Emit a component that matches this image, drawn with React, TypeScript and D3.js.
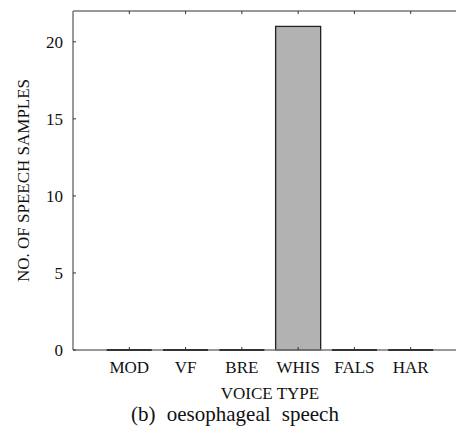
import React from "react";
import * as d3 from "d3";

const categories = ["MOD", "VF", "BRE", "WHIS", "FALS", "HAR"];
const counts = [0, 0, 0, 21, 0, 0];
const yTicks = [0, 5, 10, 15, 20];

const W = 456;
const H = 434;
const left = 73;
const top = 11;
const bottom = 350;
const right = 467;
const FONT = "Liberation Serif, Times New Roman, Times, DejaVu Serif, serif";

const textStyle = { fontFamily: FONT } as const;

export default function App() {
  const x = d3.scaleLinear().domain([0, categories.length + 1]).range([left, right]);
  const y = d3.scaleLinear().domain([0, 22]).range([bottom, top]);
  const step = x(1) - x(0);
  const barW = step * 0.8;
  const axisColor = "#777";

  return (
    <svg width={W} height={H} style={{ display: "block", position: "absolute", left: 0, top: 0 }}>
      <rect width={W} height={H} fill="#fff" />
      {/* bars */}
      {categories.map((c, i) => {
        const cx = x(i + 1);
        const h = y(0) - y(counts[i]);
        return h > 0 ? (
          <rect
            key={c}
            x={cx - barW / 2}
            y={y(counts[i])}
            width={barW}
            height={h}
            fill="#b2b2b2"
            stroke="#222"
            strokeWidth={1.3}
          />
        ) : null;
      })}
      {/* frame lines */}
      <line x1={left} x2={W} y1={top} y2={top} stroke={axisColor} strokeWidth={1.5} />
      <line x1={left} x2={left} y1={top} y2={bottom} stroke={axisColor} strokeWidth={1.5} />
      <line x1={left} x2={W} y1={bottom} y2={bottom} stroke={axisColor} strokeWidth={1.5} />
      {/* zero-height bars as dark strokes on the baseline */}
      {categories.map((c, i) =>
        counts[i] === 0 ? (
          <line
            key={c + "z"}
            x1={x(i + 1) - barW / 2}
            x2={x(i + 1) + barW / 2}
            y1={y(0)}
            y2={y(0)}
            stroke="#111"
            strokeWidth={1.6}
          />
        ) : null
      )}
      {/* y ticks */}
      {yTicks.map((t) => (
        <g key={t}>
          <line x1={left} x2={left + 3} y1={y(t)} y2={y(t)} stroke="#333" strokeWidth={1} />
          <text x={63} y={y(t)} dy="0.35em" textAnchor="end" style={textStyle} fontSize={17} fill="#111">
            {t}
          </text>
        </g>
      ))}
      {/* x ticks */}
      {categories.map((c, i) => (
        <g key={c + "t"}>
          <line x1={x(i + 1)} x2={x(i + 1)} y1={top} y2={top + 3} stroke="#333" strokeWidth={1} />
          <line x1={x(i + 1)} x2={x(i + 1)} y1={bottom} y2={bottom - 3} stroke="#333" strokeWidth={1} />
          <text x={x(i + 1)} y={373} textAnchor="middle" style={textStyle} fontSize={17} fill="#111">
            {c}
          </text>
        </g>
      ))}
      <text x={(left + right) / 2} y={398.5} textAnchor="middle" style={textStyle} fontSize={17} fill="#111">
        VOICE TYPE
      </text>
      <text
        transform={`translate(29, ${(top + bottom) / 2}) rotate(-90)`}
        textAnchor="middle"
        style={textStyle}
        fontSize={17}
        fill="#111"
      >
        NO. OF SPEECH SAMPLES
      </text>
      <text x={235} y={421} textAnchor="middle" style={textStyle} fontSize={21} wordSpacing={6} fill="#111">
        (b) oesophageal speech
      </text>
    </svg>
  );
}
